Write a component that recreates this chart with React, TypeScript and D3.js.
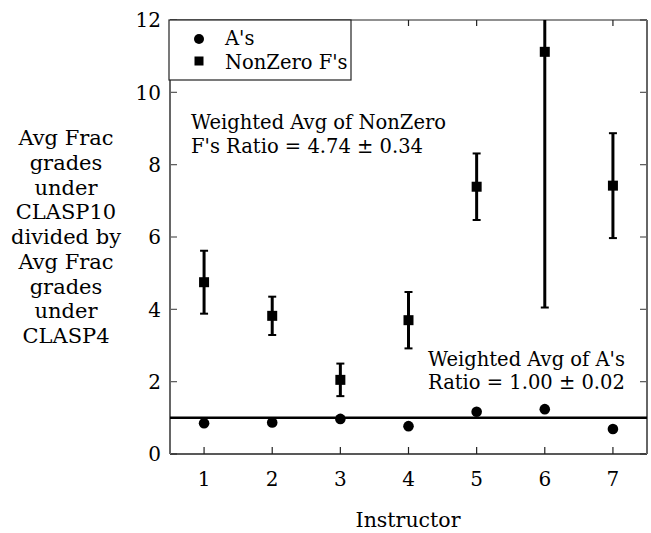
import * as React from "react";
import * as d3 from "d3";

const instructors = [1, 2, 3, 4, 5, 6, 7];
const aRatios = [0.85, 0.87, 0.97, 0.77, 1.17, 1.24, 0.69];
const fRatios = [4.75, 3.82, 2.05, 3.7, 7.39, 11.12, 7.42];
const fErrors = [0.87, 0.53, 0.45, 0.78, 0.92, 7.07, 1.45];
const yTicks = [0, 2, 4, 6, 8, 10, 12];
const weightedAvgA = 1.0;

const yLabelLines = [
  "Avg Frac",
  "grades",
  "under",
  "CLASP10",
  "divided by",
  "Avg Frac",
  "grades",
  "under",
  "CLASP4",
];

const FONT = "'DejaVu Serif', serif";

export default function App() {
  const [width, height] = [651, 533];
  const margin = { left: 170, right: 4, top: 20, bottom: 79 };
  const x0 = margin.left;
  const x1 = width - margin.right;
  const y0 = height - margin.bottom;
  const y1 = margin.top;

  const xScale = d3.scaleLinear().domain([0.5, 7.5]).range([x0, x1]);
  const yScale = d3.scaleLinear().domain([0, 12]).range([y0, y1]);

  const cap = 4;
  const sq = 10;

  return (
    <div style={{ position: "absolute", left: 0, top: 0 }}>
      <svg width={width} height={height} style={{ display: "block", fontFamily: FONT }}>
        <rect width={width} height={height} fill="#fff" />
        <defs>
          <clipPath id="plot">
            <rect x={x0} y={y1} width={x1 - x0} height={y0 - y1} />
          </clipPath>
        </defs>

        {/* ticks */}
        {instructors.map((d) => (
          <g key={"xt" + d}>
            <line x1={xScale(d)} x2={xScale(d)} y1={y0} y2={y0 - 7} stroke="#222" strokeWidth={1.2} />
            <line x1={xScale(d)} x2={xScale(d)} y1={y1} y2={y1 + 6} stroke="#222" strokeWidth={1.2} />
            <text x={xScale(d)} y={486} textAnchor="middle" fontSize={20}>
              {d}
            </text>
          </g>
        ))}
        {yTicks.map((d) => (
          <g key={"yt" + d}>
            <line x1={x0} x2={x0 + 7} y1={yScale(d)} y2={yScale(d)} stroke="#555" strokeWidth={1.2} />
            <line x1={x1} x2={x1 - 7} y1={yScale(d)} y2={yScale(d)} stroke="#555" strokeWidth={1.2} />
            <text x={161} y={yScale(d)} dy="0.36em" textAnchor="end" fontSize={20}>
              {d}
            </text>
          </g>
        ))}

        {/* frame */}
        <line x1={x0} x2={x1} y1={y1} y2={y1} stroke="#222" strokeWidth={1.2} />
        <line x1={x0} x2={x1} y1={y0} y2={y0} stroke="#222" strokeWidth={1.5} />
        <line x1={x0} x2={x0} y1={y1} y2={y0} stroke="#666" strokeWidth={2} />
        <line x1={x1} x2={x1} y1={y1} y2={y0} stroke="#666" strokeWidth={2} />

        <g clipPath="url(#plot)">
          {/* weighted average of A's */}
          <line
            x1={x0}
            x2={x1}
            y1={yScale(weightedAvgA)}
            y2={yScale(weightedAvgA)}
            stroke="#000"
            strokeWidth={2.5}
          />

          {/* F's error bars */}
          {instructors.map((d, i) => {
            const cx = xScale(d);
            const lo = yScale(fRatios[i] - fErrors[i]);
            const hi = yScale(fRatios[i] + fErrors[i]);
            return (
              <g key={"eb" + d} stroke="#000">
                <line x1={cx} x2={cx} y1={lo} y2={hi} strokeWidth={3} />
                <line x1={cx - cap} x2={cx + cap} y1={lo} y2={lo} strokeWidth={2} />
                <line x1={cx - cap} x2={cx + cap} y1={hi} y2={hi} strokeWidth={2} />
              </g>
            );
          })}
          {instructors.map((d, i) => (
            <rect
              key={"sq" + d}
              x={xScale(d) - sq / 2}
              y={yScale(fRatios[i]) - sq / 2}
              width={sq}
              height={sq}
              fill="#000"
            />
          ))}
          {instructors.map((d, i) => (
            <circle key={"ci" + d} cx={xScale(d)} cy={yScale(aRatios[i])} r={5.3} fill="#000" />
          ))}
        </g>

        {/* legend */}
        <rect x={x0 - 1} y={y1} width={182} height={60} fill="#fff" stroke="#222" strokeWidth={1.2} />
        <circle cx={199} cy={39} r={5} fill="#000" />
        <rect x={194.5} y={56.5} width={9} height={9} fill="#000" />
        <text x={225} y={45} fontSize={19.5}>
          A's
        </text>
        <text x={225} y={69} fontSize={19.5}>
          NonZero F's
        </text>

        {/* annotations */}
        <text x={191} y={129} fontSize={19.5}>
          <tspan x={191}>Weighted Avg of NonZero</tspan>
          <tspan x={191} y={153}>
            F's Ratio = 4.74 ± 0.34
          </tspan>
        </text>
        <text x={428} y={366} fontSize={19.5}>
          <tspan x={428}>Weighted Avg of A's</tspan>
          <tspan x={428} y={389}>
            Ratio = 1.00 ± 0.02
          </tspan>
        </text>

        {/* axis titles */}
        <text textAnchor="middle" fontSize={21}>
          {yLabelLines.map((l, i) => (
            <tspan key={i} x={66} y={145 + i * 24.75}>
              {l}
            </tspan>
          ))}
        </text>
        <text x={408} y={527} textAnchor="middle" fontSize={20.5}>
          Instructor
        </text>
      </svg>
    </div>
  );
}
